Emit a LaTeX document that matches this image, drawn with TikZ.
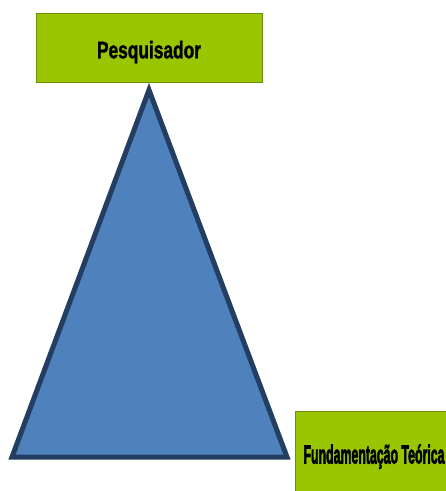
\documentclass[tikz,border=0pt]{standalone}
\usepackage{fontspec}
\setmainfont{Liberation Sans}
\newfontfamily\lblfont[FakeBold=1.6]{Liberation Sans Bold}
\newfontfamily\lblfontb[FakeBold=3.2]{Liberation Sans Bold}
\definecolor{boxgreen}{HTML}{99C600}
\definecolor{boxedge}{HTML}{6E8F0A}
\definecolor{trifill}{HTML}{4F81BD}
\definecolor{triedge}{HTML}{233E60}
\begin{document}
\begin{tikzpicture}[x=1pt,y=-1pt,
  greenbox/.style={draw=boxedge, line width=1pt, fill=boxgreen, inner sep=0pt, anchor=north west},
  lbl/.style={anchor=base, inner sep=0pt, font=\lblfont\fontsize{24}{24}\selectfont}]
\useasboundingbox (0,0) rectangle (446,491);
\node[greenbox, minimum width=226pt, minimum height=69pt] (pesq) at (36,13) {};
\node[lbl] (pesqt) at (149,58.3) {\resizebox{104pt}{\height}{Pesquisador}};
\coordinate (apex) at (149,90);
\coordinate (bl) at (12,457);
\coordinate (br) at (287,457);
\draw[triedge, fill=trifill, line width=5pt, line join=miter] (apex) -- (br) -- (bl) -- cycle;
\node[greenbox, minimum width=160pt, minimum height=90pt] (fund) at (295,411) {};
\node[lbl, font=\lblfontb\fontsize{26}{26}\selectfont] (fundt) at (374,463.5) {\resizebox{141pt}{\height}{Fundamentação Teórica}};
\end{tikzpicture}
\end{document}
